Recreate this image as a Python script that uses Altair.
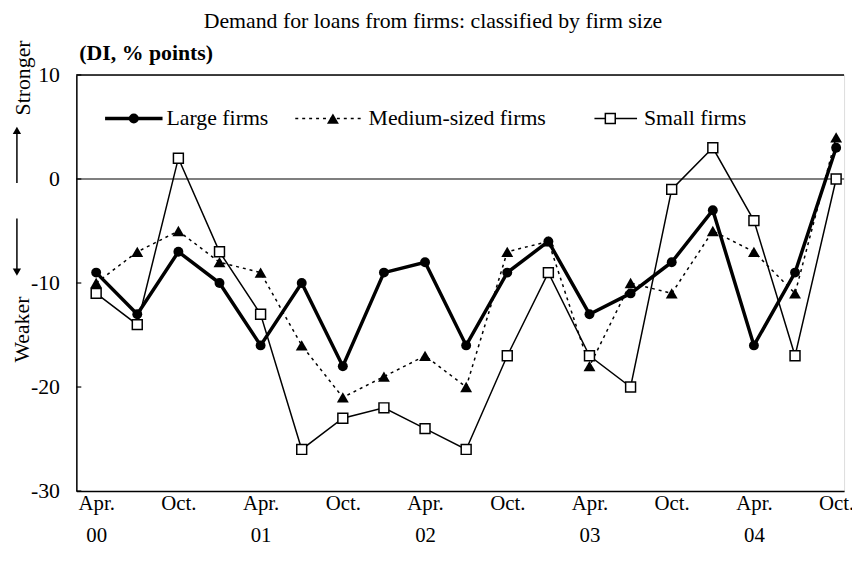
import altair as alt
import pandas as pd

# ---------------- data ----------------
quarters = ["Apr. 00", "Jul. 00", "Oct. 00", "Jan. 01", "Apr. 01", "Jul. 01", "Oct. 01",
            "Jan. 02", "Apr. 02", "Jul. 02", "Oct. 02", "Jan. 03", "Apr. 03", "Jul. 03",
            "Oct. 03", "Jan. 04", "Apr. 04", "Jul. 04", "Oct. 04"]
large = [-9, -13, -7, -10, -16, -10, -18, -9, -8, -16, -9, -6, -13, -11, -8, -3, -16, -9, 3]
medium = [-10, -7, -5, -8, -9, -16, -21, -19, -17, -20, -7, -6, -18, -10, -11, -5, -7, -11, 4]
small = [-11, -14, 2, -7, -13, -26, -23, -22, -24, -26, -17, -9, -17, -20, -1, 3, -4, -17, 0]
tick_positions = [0, 2, 4, 6, 8, 10, 12, 14, 16, 18]
tick_labels = ["Apr.|00", "Oct.", "Apr.|01", "Oct.", "Apr.|02", "Oct.", "Apr.|03", "Oct.", "Apr.|04", "Oct."]
y_ticks = [-30, -20, -10, 0, 10]

FONT = "Liberation Serif"
W, H = 775, 420


def frame(vals):
    return pd.DataFrame({"idx": list(range(len(vals))), "q": quarters, "v": vals})


label_arr = "[" + ",".join("'" + t + "'" for t in tick_labels) + "]"
xscale = alt.Scale(domain=[-0.482, 18.193], nice=False, zero=False)
yscale = alt.Scale(domain=[-30, 10], nice=False, zero=False)

X = alt.X("idx:Q", scale=xscale, title=None,
          axis=alt.Axis(values=tick_positions, grid=False, ticks=False,
                        labelExpr="split(" + label_arr + "[round(datum.value/2)], '|')",
                        labelFont=FONT, labelFontSize=21, labelColor="black",
                        labelBaseline="top", labelPadding=2, labelLineHeight=32,
                        labelAlign="center", labelFlush=False, labelOverlap=False,
                        domainColor="black", domainWidth=1.5))
Y = alt.Y("v:Q", scale=yscale, title=None,
          axis=alt.Axis(values=y_ticks, grid=False, ticks=False,
                        labelExpr="'' + datum.value",
                        labelFont=FONT, labelFontSize=22, labelColor="black",
                        labelPadding=17, labelBaseline="middle",
                        domainColor="black", domainWidth=1.5))

one = pd.DataFrame({"k": [0]})

# frame pieces: top border, zero line, inward y ticks
top_border = alt.Chart(pd.DataFrame({"v": [10]})).mark_rule(color="black", strokeWidth=1.5).encode(
    y=Y, x=alt.value(0), x2=alt.value(W))
zero_line = alt.Chart(pd.DataFrame({"v": [0]})).mark_rule(color="black", strokeWidth=1.2).encode(
    y=Y, x=alt.value(0), x2=alt.value(W))
yticks = alt.Chart(pd.DataFrame({"v": y_ticks})).mark_rule(color="black", strokeWidth=1.2).encode(
    y=Y, x=alt.value(0), x2=alt.value(5))

# series
l_line = alt.Chart(frame(large)).mark_line(color="black", strokeWidth=3.5).encode(x=X, y=Y)
l_pts = alt.Chart(frame(large)).mark_point(shape="circle", filled=True, color="black",
                                          size=100, opacity=1).encode(x=X, y=Y)
m_line = alt.Chart(frame(medium)).mark_line(color="black", strokeWidth=1.5,
                                            strokeDash=[3, 4]).encode(x=X, y=Y)
m_pts = alt.Chart(frame(medium)).mark_point(shape="triangle-up", filled=True, color="black",
                                           size=144, opacity=1).encode(x=X, y=Y)
s_line = alt.Chart(frame(small)).mark_line(color="black", strokeWidth=1.5).encode(x=X, y=Y)
s_pts = alt.Chart(frame(small)).mark_point(shape="square", filled=True, fill="white",
                                          stroke="black", strokeWidth=1.5, size=100,
                                          opacity=1).encode(x=X, y=Y)

# legend (inside plot)
def leg_line(x1, x2, y, **kw):
    return alt.Chart(one).mark_rule(color="black", **kw).encode(
        x=alt.value(x1), x2=alt.value(x2), y=alt.value(y))


def leg_pt(x, y, **kw):
    return alt.Chart(one).mark_point(opacity=1, **kw).encode(x=alt.value(x), y=alt.value(y))


def txt(s, x, y, **kw):
    base = dict(font=FONT, fontSize=22, color="black")
    base.update(kw)
    return alt.Chart(one).mark_text(**base).encode(
        x=alt.value(x), y=alt.value(y), text=alt.value(s))


legend = [
    leg_line(29, 87, 44, strokeWidth=3.5),
    leg_pt(58, 44, shape="circle", filled=True, color="black", size=100),
    txt("Large firms", 91, 44, align="left", baseline="middle"),
    leg_line(221, 288, 44, strokeWidth=1.5, strokeDash=[3, 4]),
    leg_pt(259, 44, shape="triangle-up", filled=True, color="black", size=144),
    txt("Medium-sized firms", 295, 44, align="left", baseline="middle"),
    leg_line(523, 566, 44, strokeWidth=1.5),
    leg_pt(539, 44, shape="square", filled=True, fill="white", stroke="black",
           strokeWidth=1.5, size=100),
    txt("Small firms", 573, 44, align="left", baseline="middle"),
]

# annotations outside plot
annotations = [
    txt("Demand for loans from firms: classified by firm size", 360, -47,
        align="center", baseline="alphabetic"),
    txt("(DI, % points)", 3, -15, align="left", baseline="alphabetic", fontWeight="bold"),
    txt("Stronger", -54, 3, align="center", baseline="middle", angle=270),
    txt("Weaker", -55, 257, align="center", baseline="middle", angle=270),
    alt.Chart(one).mark_rule(color="black", strokeWidth=1.5).encode(
        x=alt.value(-60), y=alt.value(109), y2=alt.value(58)),
    leg_pt(-60, 56, shape="triangle-up", filled=True, color="black", size=70),
    alt.Chart(one).mark_rule(color="black", strokeWidth=1.5).encode(
        x=alt.value(-60), y=alt.value(145), y2=alt.value(197)),
    leg_pt(-60, 199, shape="triangle-down", filled=True, color="black", size=70),
]

chart = alt.layer(
    top_border, zero_line, yticks,
    l_line, m_line, s_line, l_pts, m_pts, s_pts,
    *legend, *annotations
).properties(
    width=W, height=H,
    autosize=alt.AutoSizeParams(type="none"),
    padding={"left": 69, "top": 65, "right": 8, "bottom": 66},
).configure_view(stroke=None).configure(background="white")

chart.save("out.html", embed_options={"renderer": "svg", "actions": False})
